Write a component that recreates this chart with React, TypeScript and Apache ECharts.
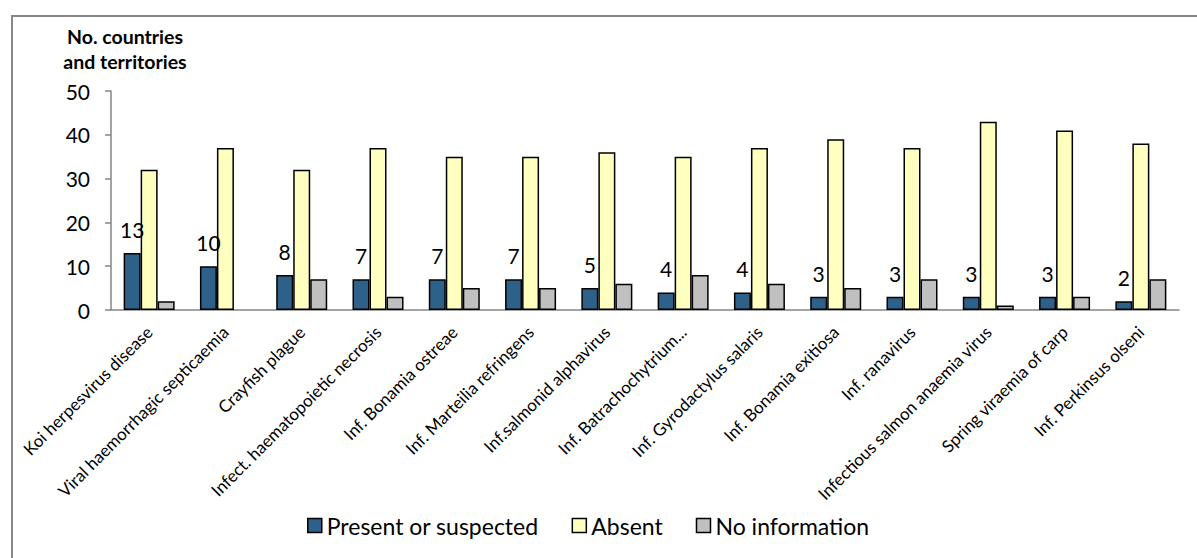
import React, { useEffect, useRef } from "react";
import * as echarts from "echarts";

const categories = [
  "Koi herpesvirus disease",
  "Viral haemorrhagic septicaemia",
  "Crayfish plague",
  "Infect. haematopoietic necrosis",
  "Inf. Bonamia ostreae",
  "Inf. Marteilia refringens",
  "Inf.salmonid alphavirus",
  "Inf. Batrachochytrium...",
  "Inf. Gyrodactylus salaris",
  "Inf. Bonamia exitiosa",
  "Inf. ranavirus",
  "Infectious salmon anaemia virus",
  "Spring viraemia of carp",
  "Inf. Perkinsus olseni",
];
const presentValues = [13, 10, 8, 7, 7, 7, 5, 4, 4, 3, 3, 3, 3, 2];
const absentValues = [32, 37, 32, 37, 35, 35, 36, 35, 37, 39, 37, 43, 41, 38];
const noInfoValues = [2, 0, 7, 3, 5, 5, 6, 8, 6, 5, 7, 1, 3, 7];
const seriesNames = ["Present or suspected", "Absent", "No information"];
const yTitleLines = ["No. countries", "and territories"];

const FONT = "Lato, 'Noto Sans', sans-serif";

const withZeroHidden = (vals: number[]) =>
  vals.map((v) => (v === 0 ? { value: v, itemStyle: { borderWidth: 0 } } : v));

export default function App() {
  const ref = useRef<HTMLDivElement>(null);
  useEffect(() => {
    if (!ref.current) return;
    const chart = echarts.init(ref.current, null, { renderer: "svg" });
    const barCommon = {
      type: "bar",
      barWidth: 17,
      barGap: "0%",
    };
    chart.setOption({
      animation: false,
      textStyle: { fontFamily: FONT, color: "#000" },
      grid: { left: 111, right: 18, top: 91, bottom: 248, containLabel: false },
      legend: {
        left: 302,
        top: 509,
        itemWidth: 14,
        itemHeight: 14,
        itemGap: 33,
        icon: "rect",
        textStyle: { fontFamily: FONT, fontSize: 23, color: "#000" },
        itemStyle: { borderColor: "#000", borderWidth: 1.5 },
        data: seriesNames,
      },
      xAxis: {
        type: "category",
        data: categories,
        axisLine: { lineStyle: { color: "#868686", width: 1.5 } },
        axisTick: { length: 5, lineStyle: { color: "#868686", width: 1.5 } },
        axisLabel: {
          rotate: 45,
          interval: 0,
          margin: 19,
          fontSize: 17,
          fontFamily: FONT,
          color: "#000",
        },
      },
      yAxis: {
        type: "value",
        min: 0,
        max: 50,
        interval: 10,
        splitLine: { show: false },
        axisLine: { show: true, lineStyle: { color: "#868686", width: 1.5 } },
        axisTick: { show: true, length: 6, lineStyle: { color: "#868686", width: 1.5 } },
        axisLabel: { fontSize: 21, fontFamily: FONT, color: "#000", margin: 21 },
      },
      graphic: [
        {
          type: "rect",
          shape: { x: 12, y: 16, width: 1200, height: 600 },
          style: { fill: "none", stroke: "#888888", lineWidth: 2 },
          silent: true,
        },
        {
          type: "text",
          x: 125,
          y: 36,
          style: {
            text: yTitleLines[0],
            fontFamily: FONT,
            fontWeight: "bold",
            fontSize: 19.5,
            fill: "#000",
            align: "center",
            verticalAlign: "middle",
          },
        },
        {
          type: "text",
          x: 125,
          y: 61,
          style: {
            text: yTitleLines[1],
            fontFamily: FONT,
            fontWeight: "bold",
            fontSize: 19.5,
            fill: "#000",
            align: "center",
            verticalAlign: "middle",
          },
        },
      ],
      series: [
        {
          ...barCommon,
          name: seriesNames[0],
          data: withZeroHidden(presentValues),
          itemStyle: { color: "#2E6189", borderColor: "#000", borderWidth: 1.5 },
          label: {
            show: true,
            position: "top",
            distance: 13,
            fontSize: 21,
            fontFamily: FONT,
            color: "#000",
          },
        },
        {
          ...barCommon,
          name: seriesNames[1],
          data: withZeroHidden(absentValues),
          itemStyle: { color: "#FFFFC0", borderColor: "#000", borderWidth: 1.5 },
        },
        {
          ...barCommon,
          name: seriesNames[2],
          data: withZeroHidden(noInfoValues),
          itemStyle: { color: "#C0C0C0", borderColor: "#000", borderWidth: 1.5 },
        },
      ],
    });
    return () => chart.dispose();
  }, []);
  return (
    <div
      ref={ref}
      style={{ position: "fixed", left: 0, top: 0, width: 1197, height: 558, background: "#fff" }}
    />
  );
}
